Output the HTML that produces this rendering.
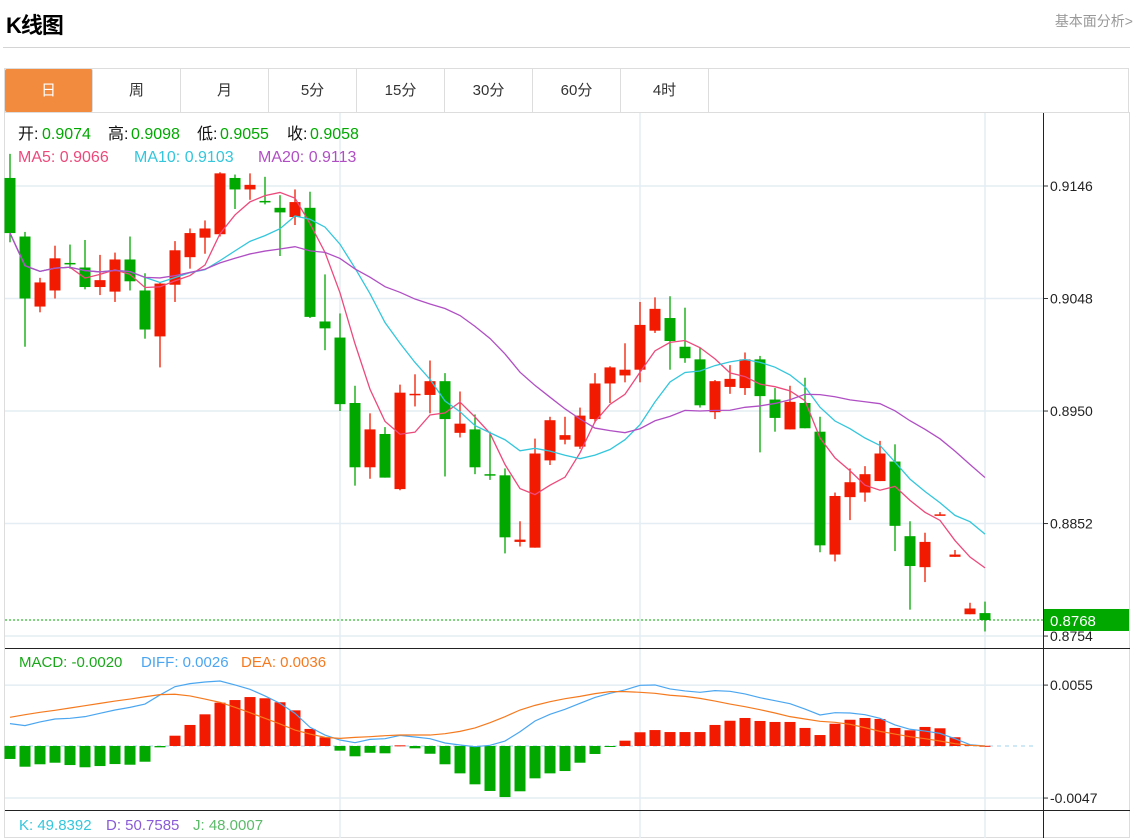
<!DOCTYPE html>
<html><head><meta charset="utf-8"><style>
html,body{margin:0;padding:0;background:#fff;}
body{width:1145px;height:838px;position:relative;overflow:hidden;font-family:"Liberation Sans","Noto Sans CJK SC",sans-serif;}
#title{position:absolute;left:6px;top:8px;font-size:22px;font-weight:bold;color:#000;letter-spacing:-1px;}
#more{position:absolute;right:12px;top:11px;font-size:14px;color:#999;}
#hr{position:absolute;left:3px;top:47px;width:1127px;height:1px;background:#d4d4d4;}
#tabs{position:absolute;left:4px;top:68px;width:1125px;height:44px;border:1px solid #ddd;border-bottom:none;box-sizing:border-box;display:flex;}
.tab{width:88px;height:43px;line-height:43px;text-align:center;font-size:15px;color:#333;border-right:1px solid #ddd;box-sizing:border-box;}
.tab.on{background:#f28b3d;color:#fff;border-radius:2px;}
svg{position:absolute;left:0;top:0;}
</style></head><body>
<div id="title">K线图</div>
<div id="more">基本面分析&gt;</div>
<div id="hr"></div>
<div id="tabs">
<div class="tab on">日</div>
<div class="tab">周</div>
<div class="tab">月</div>
<div class="tab">5分</div>
<div class="tab">15分</div>
<div class="tab">30分</div>
<div class="tab">60分</div>
<div class="tab">4时</div>
</div>
<svg id="chart" width="1145" height="838"></svg>
<script>
const opens=[.9153,.9102,.9041,.9055,.9079,.9075,.9058,.9054,.9082,.9055,.9015,.9060,.9084,.9101,.9104,.9153,.9143,.9133,.9127,.9119,.9127,.9028,.9014,.8957,.8901,.8930,.8882,.8964,.8964,.8976,.8931,.8934,.8895,.8894,.8836,.8831,.8907,.8925,.8919,.8943,.8974,.8981,.8986,.9020,.9031,.9006,.8995,.8949,.8971,.8970,.8995,.8960,.8934,.8957,.8932,.8825,.8875,.8879,.8889,.8906,.8841,.8814,.8859,.8823,.8773,.8774];
const highs=[.9174,.9106,.9066,.9094,.9095,.9099,.9086,.9088,.9102,.9070,.9062,.9098,.9109,.9116,.9158,.9156,.9157,.9154,.9138,.9143,.9141,.9069,.9035,.8972,.8948,.8936,.8973,.8982,.8994,.8983,.8967,.8947,.8932,.8900,.8854,.8926,.8945,.8945,.8953,.8983,.8989,.9009,.9045,.9049,.9050,.9040,.9005,.8977,.8990,.9001,.8998,.8970,.8972,.8979,.8945,.8879,.8900,.8902,.8924,.8921,.8854,.8844,.8862,.8829,.8783,.8784];
const lows=[.9097,.9006,.9036,.9048,.9074,.9056,.9051,.9045,.9055,.9013,.8988,.9045,.9074,.9087,.9102,.9126,.9134,.9130,.9085,.9112,.9031,.9003,.8950,.8885,.8891,.8892,.8881,.8954,.8948,.8893,.8927,.8895,.8890,.8826,.8832,.8831,.8903,.8921,.8917,.8940,.8957,.8975,.8975,.9018,.8986,.8992,.8953,.8943,.8965,.8964,.8914,.8932,.8934,.8935,.8827,.8819,.8855,.8871,.8889,.8828,.8777,.8801,.8859,.8823,.8773,.8758];
const closes=[.9105,.9048,.9062,.9083,.9078,.9058,.9064,.9082,.9063,.9021,.9061,.9090,.9105,.9109,.9157,.9143,.9147,.9132,.9123,.9132,.9032,.9022,.8956,.8901,.8934,.8892,.8966,.8965,.8976,.8943,.8939,.8901,.8894,.8840,.8838,.8913,.8942,.8929,.8946,.8974,.8988,.8986,.9025,.9039,.9011,.8996,.8955,.8976,.8978,.8995,.8963,.8944,.8958,.8935,.8833,.8876,.8888,.8895,.8913,.8850,.8815,.8836,.8860,.8825,.8778,.8768];
const macdHist=[-.00117,-.00187,-.00165,-.00151,-.00172,-.00192,-.00181,-.00163,-.00169,-.00142,-.00012,.00093,.0019,.00286,.00391,.00415,.00442,.00431,.00395,.00322,.00154,.00079,-.00042,-.00093,-.00061,-.00066,.00006,-.00021,-.0007,-.00165,-.00247,-.00346,-.00406,-.00461,-.00409,-.00292,-.00247,-.00226,-.00151,-.00072,-.00009,.00048,.00124,.00144,.00126,.00126,.00126,.0019,.00228,.00253,.00226,.00217,.00217,.00163,.00099,.00201,.00237,.00253,.00244,.00163,.00142,.00172,.0016,.00079,.00012,.00002];
const diffVals=[.00202,.00184,.00217,.00244,.0025,.00265,.00295,.00325,.00349,.00379,.00461,.00536,.00563,.00578,.00587,.00551,.00512,.00452,.00385,.00295,.00169,.00099,.00054,.0003,.0006,.00066,.00096,.00081,.00066,.00027,.00009,-.00006,.00006,.00045,.00129,.00226,.00286,.00331,.00385,.00439,.00476,.00506,.00548,.00551,.00515,.00497,.00485,.005,.00494,.0047,.00436,.00409,.00382,.00334,.0028,.00301,.00298,.00283,.0025,.0019,.00151,.00135,.00114,.00066,.00012,0];
const deaVals=[.00259,.00283,.00304,.00322,.00343,.00364,.00385,.00406,.00424,.00445,.00464,.00467,.00452,.00424,.00394,.00349,.00301,.0025,.00199,.00144,.00108,.00078,.00069,.00078,.00084,.00093,.00099,.00099,.00099,.00111,.00132,.00163,.00211,.00265,.00325,.00367,.004,.00427,.00448,.00473,.00491,.00491,.00485,.00476,.00458,.00448,.0043,.00406,.00379,.00355,.00328,.00298,.00265,.00244,.00223,.00214,.00196,.00166,.00132,.00108,.00084,.00066,.00045,.00021,.00006,0];
const priceTicks=[0.9146,0.9048,0.8950,0.8852,0.8754];
const macdTicks=[0.0055,-0.0047];
const lastPrice=0.8768;

const NS='http://www.w3.org/2000/svg';
const svg=document.getElementById('chart');
function el(t,a,p){const e=document.createElementNS(NS,t);for(const k in a)e.setAttribute(k,a[k]);(p||svg).appendChild(e);return e;}
const xOf=i=>10+15*i;
const yP=p=>186+(0.9146-p)/0.0000871;
const yM=v=>746-v/0.0000903;
const RED='#f21a00',GREEN='#00a800';

let e;
e=el('rect',{x:4.5,y:112.5,width:1125,height:725,fill:'none',stroke:'#ddd'});


[340,640,985].forEach(x=>{const g=el('line',{x1:x,y1:113,x2:x,y2:838,stroke:'#e3edf3','stroke-width':1.5});

});
priceTicks.forEach(t=>{const y=yP(t);
const g=el('line',{x1:5,y1:y,x2:1043,y2:y,stroke:'#e3edf3','stroke-width':1.5});


el('line',{x1:1043,y1:y,x2:1048,y2:y,stroke:'#333'});
const tx=el('text',{x:1050,y:y+5,'font-size':14,fill:'#222'});tx.textContent=t.toFixed(4);

});
macdTicks.forEach(t=>{const y=yM(t);
const g=el('line',{x1:5,y1:y,x2:1043,y2:y,stroke:'#e3edf3','stroke-width':1.5});


el('line',{x1:1043,y1:y,x2:1048,y2:y,stroke:'#333'});
const tx=el('text',{x:1050,y:y+5,'font-size':14,fill:'#222'});tx.textContent=t.toFixed(4);

});
el('line',{x1:1043.5,y1:113,x2:1043.5,y2:838,stroke:'#222'});
el('line',{x1:5,y1:648.5,x2:1130,y2:648.5,stroke:'#222'});
el('line',{x1:5,y1:810.5,x2:1130,y2:810.5,stroke:'#222'});
el('line',{x1:5,y1:746,x2:1036,y2:746,stroke:'#9fd6ee','stroke-dasharray':'4,4'});

closes.forEach((c,i)=>{const o=opens[i],up=c>=o,col=up?RED:GREEN,x=xOf(i);
const g=el('g',{});


el('line',{x1:x,y1:yP(highs[i]),x2:x,y2:yP(lows[i]),stroke:col,'stroke-width':1.3},g);
const t=Math.min(yP(o),yP(c)),b=Math.max(yP(o),yP(c));
el('rect',{x:x-5.5,y:t,width:11,height:Math.max(b-t,1.5),fill:col},g);});

function ma(n){return closes.map((_,i)=>{const s=closes.slice(Math.max(0,i-n+1),i+1);return s.reduce((a,b)=>a+b,0)/s.length;});}
[[5,'#ec4a7c','ma5-line'],[10,'#33c6dc','ma10-line'],[20,'#b04fc4','ma20-line']].forEach(([n,col,name])=>{
const v=ma(n);const p=el('polyline',{points:v.map((y,i)=>xOf(i)+','+yP(y)).join(' '),fill:'none',stroke:col,'stroke-width':1.3});

});

const ly=yP(lastPrice);
el('line',{x1:5,y1:ly,x2:1043,y2:ly,stroke:GREEN,'stroke-dasharray':'2,2'});
e=el('rect',{x:1044,y:ly-11,width:85,height:22,fill:GREEN});


e=el('text',{x:1050,y:ly+6,'font-size':15,fill:'#fff'});e.textContent=lastPrice.toFixed(4);

macdHist.forEach((v,i)=>{const y0=yM(0),y1=yM(v);
const r=el('rect',{x:xOf(i)-5.5,y:Math.min(y0,y1),width:11,height:Math.max(Math.abs(y1-y0),1),fill:v>=0?RED:GREEN});

});
e=el('polyline',{points:diffVals.map((v,i)=>xOf(i)+','+yM(v)).join(' '),fill:'none',stroke:'#4ba6f0','stroke-width':1.2});


e=el('polyline',{points:deaVals.map((v,i)=>xOf(i)+','+yM(v)).join(' '),fill:'none',stroke:'#f57a1f','stroke-width':1.2});



function txt(parent,x,y,s,col,size){const t=el('text',{x:x,y:y,'font-size':size||16,fill:col},parent);t.textContent=s;return t;}
let g=el('g',{});


txt(g,18,139,'开:','#111');txt(g,42,139,'0.9074',GREEN);
txt(g,108,139,'高:','#111');txt(g,131,139,'0.9098',GREEN);
txt(g,197,139,'低:','#111');txt(g,220,139,'0.9055',GREEN);
txt(g,287,139,'收:','#111');txt(g,310,139,'0.9058',GREEN);
g=el('g',{});


txt(g,18,162,'MA5:  0.9066','#ec4a7c');txt(g,134,162,'MA10:  0.9103','#33c6dc');txt(g,258,162,'MA20:  0.9113','#b04fc4');
g=el('g',{});


txt(g,19,667,'MACD: -0.0020','#1aa81a',15);txt(g,141,667,'DIFF: 0.0026','#4ba6f0',15);txt(g,241,667,'DEA: 0.0036','#f57a1f',15);
g=el('g',{});


txt(g,19,830,'K: 49.8392','#33c6dc',15);txt(g,106,830,'D: 50.7585','#8a5bd6',15);txt(g,193,830,'J: 48.0007','#5cba6a',15);
</script>
</body></html>
